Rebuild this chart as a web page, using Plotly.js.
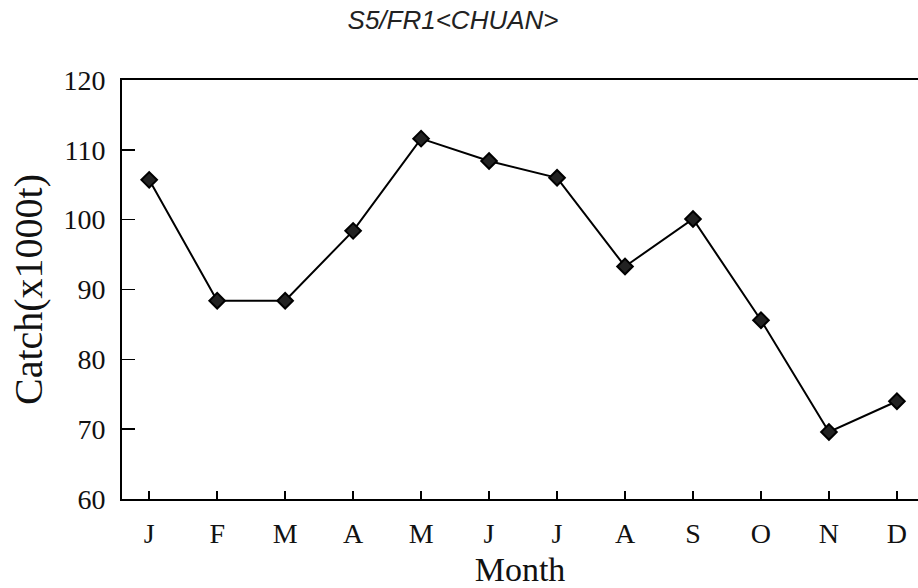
<!DOCTYPE html>
<html>
<head>
<meta charset="utf-8">
<script src="https://cdn.plot.ly/plotly-3.0.1.min.js"></script>
<style>html,body{margin:0;padding:0;background:#fff;}#chart{width:918px;height:588px;}</style>
</head>
<body>
<div id="chart"></div>
<script>
const months = ['Jan','Feb','Mar','Apr','May','Jun','Jul','Aug','Sep','Oct','Nov','Dec'];
const tickLabels = ['J','F','M','A','M','J','J','A','S','O','N','D'];
const catch1000t = [105.7, 88.4, 88.4, 98.4, 111.6, 108.4, 106.0, 93.3, 100.1, 85.6, 69.6, 74.0];
const chartTitle = 'S5/FR1&lt;CHUAN&gt;';
const xTitle = 'Month';
const yTitle = 'Catch(x1000t)';

const serif = 'Liberation Serif, DejaVu Serif, serif';

const trace = {
  x: months,
  y: catch1000t,
  type: 'scatter',
  mode: 'lines+markers',
  line: {color: '#000', width: 2},
  marker: {symbol: 'diamond', size: 12, color: '#222', line: {color: '#000', width: 2}},
  hoverinfo: 'x+y'
};

const layout = {
  width: 918, height: 588,
  paper_bgcolor: '#fff', plot_bgcolor: '#fff',
  margin: {l: 122, r: 0, t: 80, b: 89, pad: 0},
  showlegend: false,
  title: {
    text: chartTitle,
    font: {family: 'Liberation Sans, Arial, sans-serif', size: 26, color: '#222', style: 'italic'},
    xref: 'container', yref: 'container', x: 0.4935, y: 0.966,
    xanchor: 'center', yanchor: 'middle'
  },
  xaxis: {
    type: 'category',
    tickmode: 'array', tickvals: months, ticktext: tickLabels,
    range: [-0.4, 11.31],
    showline: true, linecolor: '#000', linewidth: 2, mirror: true,
    ticks: 'inside', ticklen: 8, tickwidth: 1.5, tickcolor: '#000',
    showgrid: false, zeroline: false,
    tickfont: {family: serif, size: 28, color: '#111'},
    ticklabelstandoff: 8,
    title: {text: xTitle, font: {family: serif, size: 34, color: '#111'}, standoff: 11},
    automargin: false
  },
  yaxis: {
    range: [60, 120], dtick: 10, tick0: 60,
    showline: true, linecolor: '#000', linewidth: 2,
    ticks: 'inside', ticklen: 13, tickwidth: 1.5, tickcolor: '#000',
    showgrid: false, zeroline: false,
    tickfont: {family: serif, size: 28, color: '#111'},
    ticklabelstandoff: 9,
    title: {text: yTitle, font: {family: serif, size: 40, color: '#111'}, standoff: 8},
    automargin: false
  }
};

Plotly.newPlot('chart', [trace], layout, {displayModeBar: false, staticPlot: true});
</script>
</body>
</html>
